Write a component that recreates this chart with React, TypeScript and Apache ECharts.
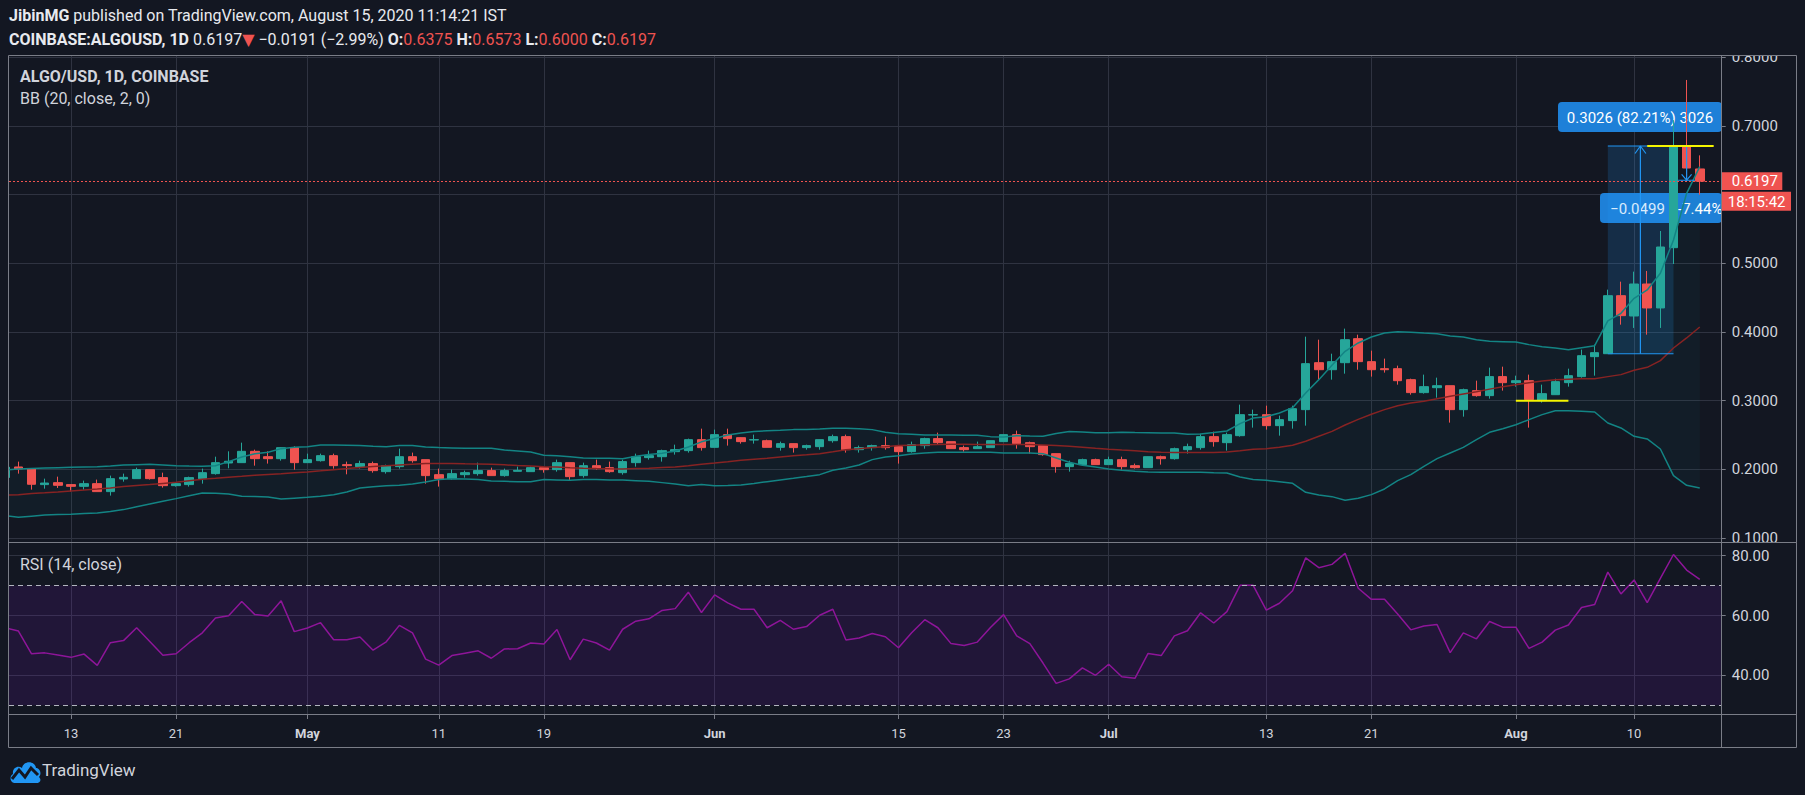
import React, { useEffect, useRef } from "react";
import * as echarts from "echarts";

const FONT = "Roboto, 'Noto Sans', 'DejaVu Sans', sans-serif";
const BG = "#131722";
const GRID = "#2f3341";
const BORDER = "#7a7d87";
const TEXT = "#d1d4dc";
const UP = "#26a69a";
const DOWN = "#ef5350";

// day index 0 = 2020-04-08 (1D candles, COINBASE:ALGOUSD)
const opens = [
  0.1880, 0.2034, 0.2005, 0.1777, 0.1806, 0.1777, 0.1752, 0.1791, 0.1675, 0.1859,
  0.1864, 0.1995, 0.1879, 0.1762, 0.1777, 0.1864, 0.1937, 0.2092, 0.2097, 0.2262,
  0.2184, 0.2155, 0.2315, 0.2097, 0.2126, 0.2199, 0.2068, 0.2039, 0.2083, 0.1966,
  0.2039, 0.2184, 0.2141, 0.1922, 0.1864, 0.1922, 0.1937, 0.1981, 0.1908, 0.1971,
  0.1966, 0.2024, 0.1995, 0.2097, 0.1908, 0.2053, 0.2024, 0.1951, 0.2097, 0.2170,
  0.2184, 0.2257, 0.2272, 0.2432, 0.2320, 0.2505, 0.2461, 0.2427, 0.2417, 0.2320,
  0.2374, 0.2316, 0.2330, 0.2417, 0.2476, 0.2286, 0.2316, 0.2345, 0.2330, 0.2257,
  0.2345, 0.2447, 0.2403, 0.2316, 0.2301, 0.2316, 0.2403, 0.2505, 0.2388, 0.2345,
  0.2228, 0.2039, 0.2068, 0.2141, 0.2068, 0.2141, 0.2053, 0.2024, 0.2184, 0.2155,
  0.2286, 0.2316, 0.2476, 0.2388, 0.2490, 0.2791, 0.2796, 0.2636, 0.2709, 0.2869,
  0.3553, 0.3451, 0.3553, 0.3903, 0.3568, 0.3466, 0.3466, 0.3306, 0.3117, 0.3189,
  0.3218, 0.2869, 0.3146, 0.3073, 0.3350, 0.3262, 0.3291, 0.3000, 0.3087, 0.3262,
  0.3350, 0.3641, 0.3684, 0.4529, 0.4233, 0.4699, 0.4350, 0.5228, 0.6709, 0.6375,
];
const closes = [
  0.2030, 0.2005, 0.1782, 0.1800, 0.1767, 0.1752, 0.1791, 0.1675, 0.1864, 0.1883,
  0.1995, 0.1864, 0.1762, 0.1791, 0.1879, 0.1951, 0.2097, 0.2117, 0.2262, 0.2155,
  0.2155, 0.2315, 0.2097, 0.2141, 0.2199, 0.2053, 0.2053, 0.2083, 0.1981, 0.2053,
  0.2184, 0.2126, 0.1908, 0.1864, 0.1937, 0.1951, 0.1981, 0.1908, 0.1981, 0.1985,
  0.2024, 0.1995, 0.2097, 0.1893, 0.2053, 0.2010, 0.1966, 0.2112, 0.2184, 0.2199,
  0.2272, 0.2286, 0.2432, 0.2316, 0.2505, 0.2447, 0.2403, 0.2432, 0.2320, 0.2374,
  0.2316, 0.2345, 0.2432, 0.2476, 0.2286, 0.2316, 0.2345, 0.2316, 0.2257, 0.2359,
  0.2447, 0.2388, 0.2301, 0.2286, 0.2330, 0.2417, 0.2505, 0.2374, 0.2330, 0.2214,
  0.2039, 0.2083, 0.2141, 0.2068, 0.2141, 0.2039, 0.2024, 0.2184, 0.2155, 0.2301,
  0.2330, 0.2476, 0.2403, 0.2505, 0.2796, 0.2796, 0.2636, 0.2723, 0.2883, 0.3539,
  0.3451, 0.3568, 0.3888, 0.3568, 0.3451, 0.3451, 0.3291, 0.3117, 0.3204, 0.3218,
  0.2869, 0.3160, 0.3073, 0.3350, 0.3262, 0.3291, 0.3015, 0.3102, 0.3277, 0.3364,
  0.3655, 0.3699, 0.4529, 0.4238, 0.4699, 0.4350, 0.5238, 0.6709, 0.6388, 0.6197,
];
const lows = [
  0.1850, 0.1937, 0.1704, 0.1718, 0.1728, 0.1675, 0.1704, 0.1675, 0.1617, 0.1820,
  0.1864, 0.1850, 0.1733, 0.1748, 0.1748, 0.1791, 0.1922, 0.2015, 0.2097, 0.2053,
  0.2083, 0.2126, 0.1995, 0.2097, 0.2112, 0.2010, 0.1927, 0.2010, 0.1951, 0.1937,
  0.2010, 0.2097, 0.1791, 0.1748, 0.1850, 0.1879, 0.1908, 0.1908, 0.1893, 0.1971,
  0.1966, 0.1951, 0.1966, 0.1835, 0.1879, 0.1995, 0.1951, 0.1922, 0.2039, 0.2141,
  0.2112, 0.2214, 0.2243, 0.2272, 0.2320, 0.2345, 0.2374, 0.2374, 0.2320, 0.2272,
  0.2243, 0.2286, 0.2286, 0.2388, 0.2243, 0.2243, 0.2272, 0.2286, 0.2083, 0.2243,
  0.2301, 0.2359, 0.2301, 0.2257, 0.2301, 0.2316, 0.2403, 0.2301, 0.2228, 0.2199,
  0.1951, 0.1966, 0.2053, 0.2066, 0.2066, 0.1995, 0.2010, 0.2022, 0.2068, 0.2141,
  0.2228, 0.2286, 0.2330, 0.2272, 0.2476, 0.2607, 0.2578, 0.2490, 0.2592, 0.2636,
  0.3306, 0.3306, 0.3393, 0.3451, 0.3350, 0.3408, 0.3233, 0.3087, 0.3102, 0.3044,
  0.2680, 0.2767, 0.3058, 0.3029, 0.3146, 0.3204, 0.2607, 0.2971, 0.3085, 0.3204,
  0.3335, 0.3364, 0.3684, 0.4107, 0.4059, 0.3961, 0.4059, 0.4990, 0.6214, 0.6000,
];
const highs = [
  0.2045, 0.2112, 0.2010, 0.1864, 0.1893, 0.1780, 0.1835, 0.1850, 0.1908, 0.1937,
  0.2024, 0.1998, 0.1951, 0.1806, 0.1893, 0.2010, 0.2184, 0.2262, 0.2388, 0.2286,
  0.2262, 0.2318, 0.2335, 0.2228, 0.2228, 0.2228, 0.2112, 0.2126, 0.2112, 0.2068,
  0.2301, 0.2243, 0.2141, 0.2010, 0.1995, 0.1981, 0.2097, 0.2024, 0.2010, 0.2039,
  0.2039, 0.2024, 0.2141, 0.2097, 0.2097, 0.2141, 0.2112, 0.2141, 0.2228, 0.2272,
  0.2286, 0.2359, 0.2447, 0.2592, 0.2578, 0.2592, 0.2465, 0.2505, 0.2432, 0.2403,
  0.2376, 0.2359, 0.2435, 0.2505, 0.2505, 0.2345, 0.2359, 0.2476, 0.2332, 0.2403,
  0.2461, 0.2534, 0.2405, 0.2345, 0.2403, 0.2419, 0.2507, 0.2563, 0.2403, 0.2347,
  0.2230, 0.2126, 0.2155, 0.2155, 0.2184, 0.2184, 0.2083, 0.2186, 0.2199, 0.2316,
  0.2374, 0.2519, 0.2549, 0.2534, 0.2942, 0.2869, 0.2927, 0.2782, 0.2927, 0.3932,
  0.3888, 0.3684, 0.4049, 0.3961, 0.3728, 0.3612, 0.3510, 0.3320, 0.3379, 0.3335,
  0.3220, 0.3175, 0.3291, 0.3481, 0.3495, 0.3364, 0.3379, 0.3233, 0.3320, 0.3466,
  0.3743, 0.3816, 0.4617, 0.4733, 0.4879, 0.4889, 0.5471, 0.7086, 0.7671, 0.6573,
];

// Bollinger Bands (20, close, 2)
const bbUpper = [
  0.1990, 0.2005, 0.2012, 0.2019, 0.2024, 0.2029, 0.2034, 0.2039, 0.2048, 0.2063,
  0.2068, 0.2073, 0.2063, 0.2053, 0.2048, 0.2044, 0.2053, 0.2112, 0.2180, 0.2228,
  0.2248, 0.2301, 0.2320, 0.2330, 0.2354, 0.2354, 0.2350, 0.2345, 0.2335, 0.2330,
  0.2345, 0.2345, 0.2325, 0.2316, 0.2311, 0.2306, 0.2306, 0.2306, 0.2282, 0.2267,
  0.2252, 0.2204, 0.2199, 0.2184, 0.2165, 0.2160, 0.2160, 0.2155, 0.2189, 0.2214,
  0.2233, 0.2267, 0.2325, 0.2400, 0.2450, 0.2500, 0.2529, 0.2549, 0.2563, 0.2568,
  0.2578, 0.2578, 0.2587, 0.2597, 0.2597, 0.2592, 0.2578, 0.2539, 0.2519, 0.2510,
  0.2500, 0.2500, 0.2500, 0.2495, 0.2495, 0.2476, 0.2471, 0.2490, 0.2485, 0.2481,
  0.2520, 0.2549, 0.2545, 0.2534, 0.2534, 0.2539, 0.2536, 0.2534, 0.2529, 0.2529,
  0.2510, 0.2515, 0.2535, 0.2558, 0.2665, 0.2748, 0.2767, 0.2820, 0.2898, 0.3112,
  0.3306, 0.3515, 0.3718, 0.3840, 0.3927, 0.3985, 0.4005, 0.3995, 0.3985, 0.3976,
  0.3942, 0.3927, 0.3888, 0.3864, 0.3859, 0.3854, 0.3816, 0.3786, 0.3767, 0.3743,
  0.3772, 0.3801, 0.4161, 0.4272, 0.4491, 0.4612, 0.4855, 0.5340, 0.6020, 0.6408,
];
const bbBasis = [
  0.1624, 0.1630, 0.1648, 0.1658, 0.1670, 0.1685, 0.1698, 0.1712, 0.1728, 0.1748,
  0.1765, 0.1778, 0.1795, 0.1810, 0.1835, 0.1855, 0.1868, 0.1885, 0.1898, 0.1912,
  0.1925, 0.1935, 0.1950, 0.1962, 0.1978, 0.1995, 0.2010, 0.2027, 0.2040, 0.2053,
  0.2063, 0.2073, 0.2083, 0.2083, 0.2083, 0.2080, 0.2078, 0.2073, 0.2065, 0.2055,
  0.2048, 0.2039, 0.2032, 0.2024, 0.2017, 0.2012, 0.2008, 0.2005, 0.2010, 0.2015,
  0.2025, 0.2034, 0.2053, 0.2075, 0.2092, 0.2110, 0.2131, 0.2146, 0.2160, 0.2180,
  0.2199, 0.2213, 0.2228, 0.2255, 0.2286, 0.2300, 0.2316, 0.2330, 0.2345, 0.2352,
  0.2359, 0.2362, 0.2364, 0.2364, 0.2362, 0.2362, 0.2362, 0.2362, 0.2362, 0.2355,
  0.2345, 0.2335, 0.2320, 0.2305, 0.2291, 0.2280, 0.2270, 0.2257, 0.2250, 0.2245,
  0.2243, 0.2243, 0.2246, 0.2252, 0.2270, 0.2291, 0.2300, 0.2320, 0.2350, 0.2408,
  0.2481, 0.2553, 0.2646, 0.2728, 0.2801, 0.2869, 0.2927, 0.2965, 0.2990, 0.3027,
  0.3063, 0.3097, 0.3131, 0.3168, 0.3204, 0.3233, 0.3262, 0.3285, 0.3306, 0.3313,
  0.3320, 0.3320, 0.3350, 0.3379, 0.3442, 0.3485, 0.3583, 0.3767, 0.3913, 0.4073,
];
const bbLower = [
  0.1325, 0.1301, 0.1318, 0.1335, 0.1340, 0.1345, 0.1355, 0.1365, 0.1385, 0.1413,
  0.1455, 0.1495, 0.1535, 0.1573, 0.1615, 0.1655, 0.1650, 0.1641, 0.1607, 0.1605,
  0.1597, 0.1568, 0.1580, 0.1592, 0.1607, 0.1630, 0.1670, 0.1728, 0.1745, 0.1762,
  0.1767, 0.1786, 0.1816, 0.1850, 0.1864, 0.1859, 0.1850, 0.1830, 0.1825, 0.1820,
  0.1820, 0.1850, 0.1845, 0.1840, 0.1850, 0.1850, 0.1845, 0.1845, 0.1835, 0.1825,
  0.1806, 0.1786, 0.1762, 0.1777, 0.1762, 0.1765, 0.1772, 0.1795, 0.1820, 0.1845,
  0.1869, 0.1895, 0.1922, 0.1985, 0.2020, 0.2063, 0.2141, 0.2180, 0.2199, 0.2223,
  0.2238, 0.2248, 0.2248, 0.2248, 0.2248, 0.2248, 0.2238, 0.2238, 0.2238, 0.2228,
  0.2165, 0.2102, 0.2058, 0.2035, 0.2005, 0.1985, 0.1971, 0.1961, 0.1958, 0.1956,
  0.1956, 0.1956, 0.1950, 0.1947, 0.1888, 0.1850, 0.1840, 0.1820, 0.1796, 0.1665,
  0.1626, 0.1602, 0.1549, 0.1578, 0.1631, 0.1714, 0.1835, 0.1922, 0.2044, 0.2155,
  0.2238, 0.2320, 0.2432, 0.2539, 0.2592, 0.2650, 0.2723, 0.2796, 0.2854, 0.2854,
  0.2845, 0.2835, 0.2675, 0.2602, 0.2481, 0.2442, 0.2296, 0.1908, 0.1767, 0.1728,
];

// RSI (14, close)
const rsi = [
  55.9, 54.8, 47.2, 47.5, 46.8, 46.0, 47.1, 43.3, 50.9, 51.6,
  55.9, 51.3, 46.7, 47.2, 50.9, 54.2, 59.2, 59.9, 64.7, 60.3,
  59.8, 64.9, 54.6, 55.8, 57.6, 51.9, 51.9, 52.8, 48.4, 51.2,
  56.7, 54.2, 45.4, 43.4, 46.6, 47.4, 48.2, 45.7, 48.8, 48.9,
  50.8, 50.5, 55.3, 45.2, 52.1, 50.8, 48.4, 55.4, 58.1, 58.9,
  61.7, 62.3, 67.8, 61.0, 66.9, 64.2, 62.1, 62.1, 55.9, 58.4,
  55.4, 56.3, 60.1, 62.1, 51.8, 52.5, 54.0, 52.9, 49.2, 54.2,
  58.6, 55.9, 50.6, 50.0, 51.1, 56.0, 60.3, 53.2, 50.6, 44.1,
  37.3, 38.8, 42.5, 40.0, 43.7, 39.5, 39.0, 47.3, 46.6, 53.2,
  54.9, 60.9, 57.5, 61.3, 70.1, 70.1, 61.8, 64.1, 68.3, 79.3,
  76.0, 77.1, 80.8, 69.1, 65.4, 65.4, 60.5, 55.2, 56.5, 57.0,
  47.6, 54.2, 52.2, 58.0, 56.1, 56.1, 49.0, 51.1, 55.1, 56.8,
  62.7, 63.7, 74.5, 67.2, 71.9, 64.3, 72.4, 80.4, 75.2, 72.1,
];

const tickDays = [5, 13, 23, 33, 41, 54, 68, 76, 84, 96, 104, 115, 124];
const tickLabels = ["13", "21", "May", "11", "19", "Jun", "15", "23", "Jul", "13", "21", "Aug", "10"];
const monthLabels = ["May", "Jun", "Jul", "Aug"];
const priceTicks = [0.1, 0.2, 0.3, 0.4, 0.5, 0.6, 0.7, 0.8];
const priceLabelTicks = [0.1, 0.2, 0.3, 0.4, 0.5, 0.7, 0.8]; // 0.6000 sits under the last-price tags
const rsiTicks = [40, 60, 80];
const lastPrice = 0.6197;

// price-range drawings (day index, price)
const rangeBox = [122.0, 127.0, 0.3683, 0.6709];
const rangeTopLine = [[122.0, 0.6709], [129.07, 0.6709]];
const rangeBottomLine = [[122.0, 0.3683], [127.0, 0.3683]];
const rangeArrow = [[124.48, 0.3683], [124.48, 0.6709]];
const rangeArrowHead = [[124.07, 0.6600], [124.48, 0.6709], [124.9, 0.6600]];
const dropArrow = [[128.0, 0.6709], [128.0, 0.6210]];
const dropArrowHead = [[127.62, 0.6297], [128.0, 0.6212], [128.38, 0.6297]];
const dropBase = [[127.35, 0.6210], [128.64, 0.6210]];
const yellowHigh = [[125.0, 0.6709], [130.06, 0.6709]];
const yellowLow = [[115.0, 0.3], [119.0, 0.3]];

const X_MIN = 0.282;
const X_MAX = 130.67;

echarts.graphic.registerShape(
  "tvlogo",
  echarts.graphic.extendPath(
    "M6 26 C1 26 0 19 4 17 C3 11 9 8 13 11 C15 3 26 4 27 11 C31 11 33 17 30 20 C33 23 31 26 27 26 Z",
    {}
  )
);

function seg(data: number[][], color: string, width: number, z = 3): any {
  return {
    type: "line",
    xAxisIndex: 0,
    yAxisIndex: 0,
    data,
    symbol: "none",
    silent: true,
    z,
    lineStyle: { color, width },
    animation: false,
  };
}

function txt(x: number, y: number, text: string, o: any = {}): any {
  return {
    type: "text",
    x,
    y,
    z: o.z ?? 10,
    silent: true,
    style: {
      text,
      fill: o.fill ?? TEXT,
      fontSize: o.size ?? 16,
      fontFamily: FONT,
      fontWeight: o.weight ?? "normal",
      align: o.align ?? "left",
      verticalAlign: "middle",
      rich: o.rich,
    },
  };
}

function line(x1: number, y1: number, x2: number, y2: number, z = 16): any {
  return {
    type: "line",
    z,
    silent: true,
    shape: { x1, y1, x2, y2 },
    style: { stroke: BORDER, lineWidth: 1 },
  };
}

export default function App() {
  const ref = useRef<HTMLDivElement>(null);
  useEffect(() => {
    if (!ref.current) return;
    const chart = echarts.init(ref.current, null, { renderer: "svg" });
    const candles = opens.map((o, i) => [i, o, closes[i], lows[i], highs[i]]);
    const pts = (arr: number[]) => arr.map((v, i) => [i, v]);
    const hdrRich = (size: number) => ({
      b: { fontWeight: "bold", fontSize: size, fontFamily: FONT, fill: "#e8eaef" },
      n: { fontWeight: "normal", fontSize: size, fontFamily: FONT, fill: "#e8eaef" },
      r: { fontWeight: "normal", fontSize: size, fontFamily: FONT, fill: DOWN },
    });

    const xAxisBase = {
      type: "value",
      min: X_MIN,
      max: X_MAX,
      axisLine: { show: false },
      splitLine: { show: true, lineStyle: { color: GRID, width: 1 } },
    };

    const option: any = {
      animation: false,
      backgroundColor: BG,
      grid: [
        { left: 9, top: 56, width: 1712.7, height: 486.7 },
        { left: 9, top: 542.7, width: 1712.7, height: 172.3 },
      ],
      xAxis: [
        {
          ...xAxisBase,
          gridIndex: 0,
          axisTick: { show: false, customValues: tickDays },
          axisLabel: { show: false, customValues: tickDays },
        },
        {
          ...xAxisBase,
          gridIndex: 1,
          position: "bottom",
          axisTick: { show: true, length: 4, customValues: tickDays, lineStyle: { color: BORDER } },
          axisLabel: {
            show: true,
            customValues: tickDays,
            color: TEXT,
            fontSize: 13,
            fontFamily: FONT,
            margin: 12,
            formatter: (v: number) => {
              const k = tickDays.indexOf(Math.round(v));
              const t = k >= 0 ? tickLabels[k] : "";
              return monthLabels.includes(t) ? `{m|${t}}` : t;
            },
            rich: { m: { fontWeight: "bold", color: TEXT, fontSize: 13, fontFamily: FONT } },
          },
        },
      ],
      yAxis: [
        {
          type: "value",
          gridIndex: 0,
          position: "right",
          min: 0.0931,
          max: 0.802,
          axisLine: { show: false },
          axisTick: { show: true, length: 4, customValues: priceTicks, lineStyle: { color: BORDER } },
          axisLabel: {
            customValues: priceLabelTicks,
            color: TEXT,
            fontSize: 15,
            fontFamily: FONT,
            margin: 10,
            formatter: (v: number) => v.toFixed(4),
          },
          splitLine: { show: true, lineStyle: { color: GRID, width: 1 } },
        },
        {
          type: "value",
          gridIndex: 1,
          position: "right",
          min: 26.72,
          max: 84.35,
          axisLine: { show: false },
          axisTick: { show: true, length: 4, customValues: rsiTicks, lineStyle: { color: BORDER } },
          axisLabel: {
            customValues: rsiTicks,
            color: TEXT,
            fontSize: 15,
            fontFamily: FONT,
            margin: 10,
            formatter: (v: number) => v.toFixed(2),
          },
          splitLine: { show: true, lineStyle: { color: GRID, width: 1 } },
        },
      ],
      series: [
        {
          type: "custom",
          name: "BB fill",
          xAxisIndex: 0,
          yAxisIndex: 0,
          clip: true,
          silent: true,
          z: 1,
          data: [[0, bbUpper[0]]],
          encode: { x: 0, y: 1 },
          renderItem: (params: any, api: any) => {
            const poly: number[][] = [];
            for (let i = 0; i < bbUpper.length; i++) poly.push(api.coord([i, bbUpper[i]]));
            for (let i = bbLower.length - 1; i >= 0; i--) poly.push(api.coord([i, bbLower[i]]));
            return {
              type: "polygon",
              shape: { points: poly },
              style: { fill: "rgba(25,135,135,0.06)" },
              silent: true,
            };
          },
        },
        {
          type: "line",
          name: "BB upper",
          xAxisIndex: 0,
          yAxisIndex: 0,
          data: pts(bbUpper),
          symbol: "none",
          silent: true,
          lineStyle: { color: "#138484", width: 1.5 },
        },
        {
          type: "line",
          name: "BB basis",
          xAxisIndex: 0,
          yAxisIndex: 0,
          data: pts(bbBasis),
          symbol: "none",
          silent: true,
          lineStyle: { color: "#872323", width: 1.5 },
        },
        {
          type: "line",
          name: "BB lower",
          xAxisIndex: 0,
          yAxisIndex: 0,
          data: pts(bbLower),
          symbol: "none",
          silent: true,
          lineStyle: { color: "#138484", width: 1.5 },
        },
        {
          ...seg(rangeBottomLine, "#2196f3", 1.2),
          markArea: {
            silent: true,
            itemStyle: { color: "rgba(33,150,243,0.18)" },
            data: [[{ xAxis: rangeBox[0], yAxis: rangeBox[2] }, { xAxis: rangeBox[1], yAxis: rangeBox[3] }]],
          },
        },
        seg(rangeTopLine, "#2196f3", 1.2),
        seg(rangeArrow, "#2196f3", 1.2),
        seg(rangeArrowHead, "#2196f3", 1.2),
        {
          type: "candlestick",
          name: "ALGOUSD",
          xAxisIndex: 0,
          yAxisIndex: 0,
          data: candles,
          encode: { x: 0, y: [1, 2, 3, 4] },
          barWidth: 9,
          clip: true,
          silent: true,
          itemStyle: {
            color: UP,
            color0: DOWN,
            borderColor: UP,
            borderColor0: DOWN,
            borderWidth: 1,
          },
          markLine: {
            silent: true,
            symbol: ["none", "none"],
            label: { show: false },
            lineStyle: { color: DOWN, type: [2, 2], width: 1 },
            data: [{ yAxis: lastPrice }],
          },
        },
        seg(dropArrow, "#2196f3", 1.2, 4),
        seg(dropArrowHead, "#2196f3", 1.2, 4),
        seg(dropBase, "#2196f3", 1.2, 4),
        seg(yellowHigh, "#f5f500", 2, 4),
        seg(yellowLow, "#f5f500", 2, 4),
        {
          type: "line",
          name: "RSI",
          xAxisIndex: 1,
          yAxisIndex: 1,
          data: pts(rsi),
          symbol: "none",
          silent: true,
          lineStyle: { color: "#8e1599", width: 1.5 },
          markArea: {
            silent: true,
            itemStyle: { color: "rgba(153,21,255,0.1)" },
            data: [[{ yAxis: 30 }, { yAxis: 70 }]],
          },
          markLine: {
            silent: true,
            symbol: ["none", "none"],
            label: { show: false },
            lineStyle: { color: "#b2b5be", type: [5, 4], width: 1 },
            data: [{ yAxis: 70 }, { yAxis: 30 }],
          },
        },
      ],
      graphic: [
        // header
        txt(9, 15.7, "{b|JibinMG}{n| published on TradingView.com, August 15, 2020 11:14:21 IST}", { rich: hdrRich(16) }),
        txt(
          9,
          39.3,
          "{b|COINBASE:ALGOUSD, 1D}{n| 0.6197}{r|▼}{n| −0.0191 (−2.99%) }{b|O:}{r|0.6375}{n| }{b|H:}{r|0.6573}{n| }{b|L:}{r|0.6000}{n| }{b|C:}{r|0.6197}",
          { rich: hdrRich(16) }
        ),
        txt(20, 76.7, "ALGO/USD, 1D, COINBASE", { weight: "bold" }),
        txt(20, 98, "BB (20, close, 2, 0)"),
        txt(20, 564, "RSI (14, close)"),
        // measurement labels (below candles)
        { type: "rect", z: 1, silent: true, shape: { x: 1558, y: 102, width: 164, height: 30, r: 4 }, style: { fill: "#1e80d8" } },
        txt(1640, 117.5, "0.3026 (82.21%) 3026", { fill: "#ffffff", align: "center", z: 1, size: 15 }),
        { type: "rect", z: 1, silent: true, shape: { x: 1600, y: 193, width: 122, height: 30, r: 4 }, style: { fill: "#1e80d8" } },
        txt(1637.5, 208.5, "−0.0499", { fill: "#ffffff", align: "center", z: 1, size: 15 }),
        txt(1678, 208.5, "-7.44%", { fill: "#ffffff", z: 1, size: 15 }),
        // masks outside the panes
        { type: "rect", z: 15, silent: true, shape: { x: 1722, y: 40, width: 75, height: 15.5 }, style: { fill: BG } },
        { type: "rect", z: 15, silent: true, shape: { x: 1722, y: 211, width: 74, height: 13 }, style: { fill: BG } },
        { type: "rect", z: 15, silent: true, shape: { x: 0, y: 50, width: 8.5, height: 700 }, style: { fill: BG } },
        // borders
        line(8.5, 55.5, 1796.5, 55.5),
        line(8.5, 55.5, 8.5, 747.5),
        line(1796.5, 55.5, 1796.5, 747.5),
        line(8.5, 747.5, 1796.5, 747.5),
        line(1721.5, 55.5, 1721.5, 747.5),
        line(8.5, 542.5, 1796.5, 542.5),
        line(8.5, 714.5, 1796.5, 714.5),
        // last price labels
        { type: "rect", z: 20, silent: true, shape: { x: 1722, y: 172.3, width: 60.3, height: 17.8 }, style: { fill: DOWN } },
        txt(1731.7, 181.4, "0.6197", { fill: "#ffffff", size: 15, z: 21 }),
        { type: "rect", z: 20, silent: true, shape: { x: 1722, y: 191.8, width: 69, height: 19 }, style: { fill: DOWN } },
        txt(1727.7, 201.5, "18:15:42", { fill: "#ffffff", size: 15, z: 21 }),
        // logo
        { type: "tvlogo", x: 9, y: 757, scaleX: 1, scaleY: 1, z: 10, silent: true, style: { fill: "#2196f3" } },
        {
          type: "polyline",
          z: 11,
          silent: true,
          shape: { points: [[12, 779], [19, 770], [25, 777], [31, 768], [38, 775]] },
          style: { stroke: BG, lineWidth: 3, fill: null },
        },
        txt(42, 770, "TradingView", { size: 17, fill: TEXT }),
      ],
    };
    chart.setOption(option);
    return () => chart.dispose();
  }, []);
  return (
    <div
      ref={ref}
      style={{ position: "fixed", left: 0, top: 0, width: 1805, height: 795, background: BG }}
    />
  );
}
